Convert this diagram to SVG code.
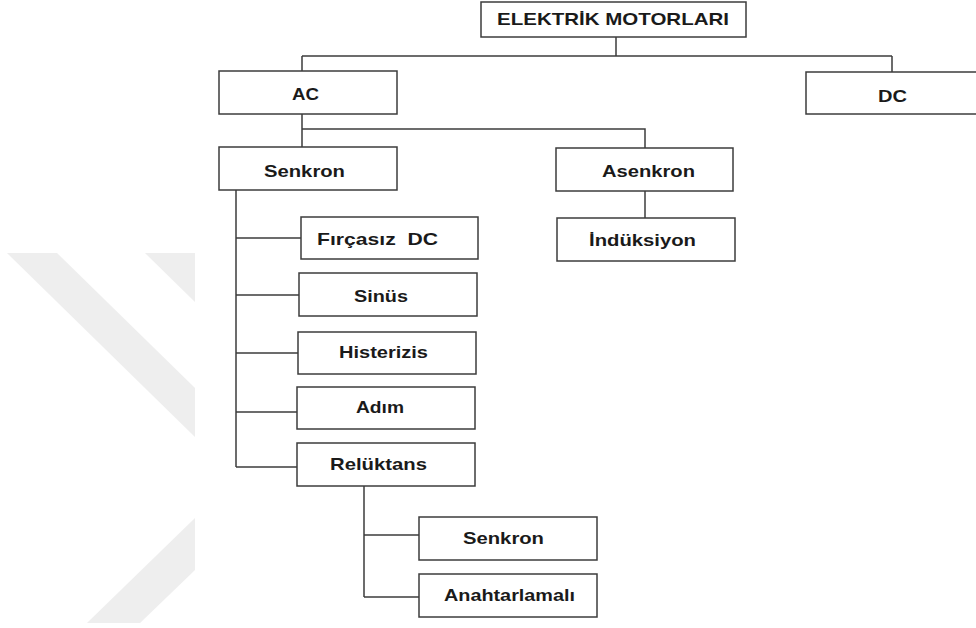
<svg xmlns="http://www.w3.org/2000/svg" width="976" height="628" viewBox="0 0 976 628">
<style>
.bg{fill:#ffffff}
.wm{fill:#eeeeee}
.box{fill:#ffffff;stroke:#3c3c3c;stroke-width:1.5}
.ln{fill:none;stroke:#3c3c3c;stroke-width:1.5}
.t{font-family:"Liberation Sans",Arial,sans-serif;font-weight:bold;font-size:17px;fill:#1a1a1a;white-space:pre}
</style>
<rect class="bg" x="0" y="0" width="976" height="628"/>
<g id="watermark">
<polygon class="wm" points="7,253 57,253 195,388 195,437"/>
<polygon class="wm" points="145,253 195,253 195,302"/>
<polygon class="wm" points="87,623 140,623 195,570 195,518"/>
</g>
<g id="connectors">
<path class="ln" d="M616,37 V56 M302,56 H892 M302,56 V71 M892,56 V72"/>
<path class="ln" d="M302,114 V147 M302,129 H645 V148"/>
<path class="ln" d="M645,191 V218"/>
<path class="ln" d="M236,190 V467 M236,238 H301 M236,295 H299 M236,353 H298 M236,412 H297 M236,467 H297"/>
<path class="ln" d="M364,486 V597 M364,535 H419 M364,597 H419"/>
</g>
<g id="n-root"><rect class="box" x="481" y="2" width="265" height="35"/><text class="t" x="497" y="25" textLength="232" lengthAdjust="spacingAndGlyphs">ELEKTRİK MOTORLARI</text></g>
<g id="n-ac"><rect class="box" x="219" y="71" width="178" height="43"/><text class="t" x="292" y="100" textLength="27" lengthAdjust="spacingAndGlyphs">AC</text></g>
<g id="n-dc"><rect class="box" x="806" y="72" width="180" height="42"/><text class="t" x="878" y="102" textLength="29" lengthAdjust="spacingAndGlyphs">DC</text></g>
<g id="n-senkron"><rect class="box" x="219" y="147" width="178" height="43"/><text class="t" x="264" y="177" textLength="81" lengthAdjust="spacingAndGlyphs">Senkron</text></g>
<g id="n-asenkron"><rect class="box" x="556" y="148" width="177" height="43"/><text class="t" x="602" y="177" textLength="93" lengthAdjust="spacingAndGlyphs">Asenkron</text></g>
<g id="n-induksiyon"><rect class="box" x="557" y="218" width="178" height="43"/><text class="t" x="589" y="246" textLength="107" lengthAdjust="spacingAndGlyphs">İndüksiyon</text></g>
<g id="n-fircasiz"><rect class="box" x="301" y="217" width="177" height="42"/><text class="t" x="317" y="245" textLength="121" lengthAdjust="spacingAndGlyphs">Fırçasız  DC</text></g>
<g id="n-sinus"><rect class="box" x="299" y="273" width="178" height="43"/><text class="t" x="354" y="302" textLength="54" lengthAdjust="spacingAndGlyphs">Sinüs</text></g>
<g id="n-histerizis"><rect class="box" x="298" y="332" width="178" height="42"/><text class="t" x="339" y="358" textLength="89" lengthAdjust="spacingAndGlyphs">Histerizis</text></g>
<g id="n-adim"><rect class="box" x="297" y="387" width="178" height="42"/><text class="t" x="356" y="413" textLength="48" lengthAdjust="spacingAndGlyphs">Adım</text></g>
<g id="n-reluktans"><rect class="box" x="297" y="443" width="178" height="43"/><text class="t" x="330" y="470" textLength="97" lengthAdjust="spacingAndGlyphs">Relüktans</text></g>
<g id="n-senkron2"><rect class="box" x="419" y="517" width="178" height="43"/><text class="t" x="463" y="544" textLength="81" lengthAdjust="spacingAndGlyphs">Senkron</text></g>
<g id="n-anahtarlamali"><rect class="box" x="419" y="574" width="178" height="43"/><text class="t" x="444" y="601" textLength="131" lengthAdjust="spacingAndGlyphs">Anahtarlamalı</text></g>
</svg>
